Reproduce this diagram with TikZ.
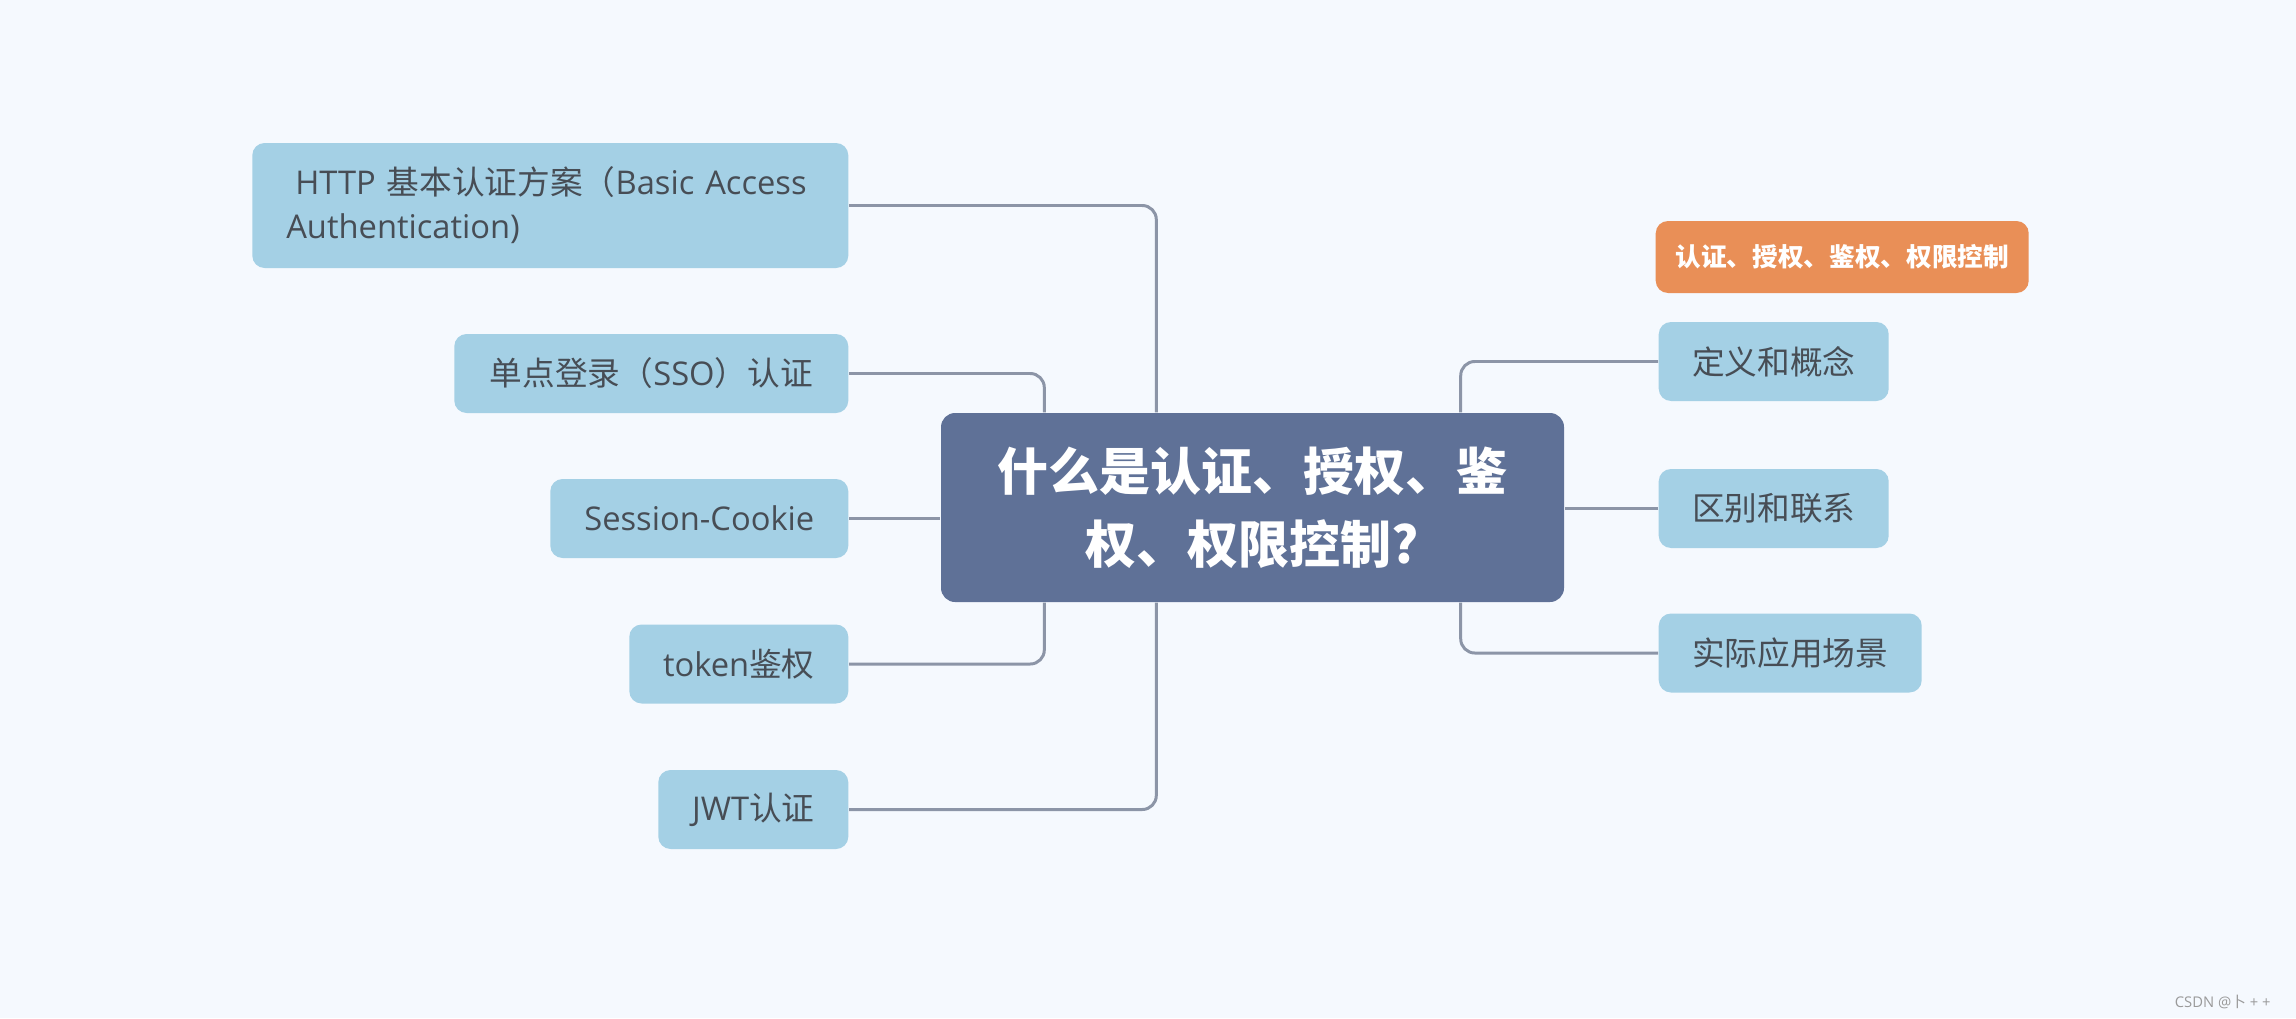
\documentclass[tikz,border=0pt]{standalone}
\usepackage{fontspec}
\setmainfont{Open Sans}
\newfontfamily\cjk{Noto Sans CJK SC}
\usepackage{xcolor}
\usepackage{tikz}
\usetikzlibrary{calc, positioning}
\definecolor{bgpale}{HTML}{F5F9FE}
\definecolor{hubblue}{HTML}{5F7197}
\definecolor{leafblue}{HTML}{A4D0E5}
\definecolor{leaftext}{HTML}{474D55}
\definecolor{tagorange}{HTML}{E98F57}
\definecolor{linkgray}{HTML}{8C95A7}
\definecolor{markgray}{HTML}{9A9A9A}
\newcommand{\zh}[1]{{\cjk #1}}

\begin{document}
\begin{tikzpicture}[
        hub/.style = {rectangle, rounded corners=4pt, fill=hubblue, text=white, minimum width=6.23cm, minimum height=1.89cm, align=center, font=\cjk\bfseries\fontsize{14.5}{20.7}\selectfont},
        leaf/.style = {rectangle, rounded corners=3.5pt, fill=leafblue, text=leaftext, minimum height=0.79cm, inner sep=0pt, font=\fontsize{9.3}{12.5}\selectfont},
        tag/.style = {rectangle, rounded corners=3.5pt, fill=tagorange, text=white, minimum width=3.73cm, minimum height=0.72cm, inner sep=0pt, font=\cjk\bfseries\fontsize{7.3}{9}\selectfont},
        link/.style = {draw=linkgray, line width=0.85pt, rounded corners=4pt}
    ]

        \fill[bgpale] (0,0) rectangle (22.96,10.18);
        \useasboundingbox (0,0) rectangle (22.96,10.18);

        \node (hub) [hub] at (12.525,5.105) {什么是认证、授权、鉴\\权、权限控制?};

        % left side
        \node (http) [leaf, anchor=east, minimum width=5.96cm, minimum height=1.25cm, text width=5.28cm, align=left] at (8.49,8.125) {\hspace{0.09cm}HTTP \zh{基本认证方案（}Basic Access\\Authentication)};
        \node (sso) [leaf, anchor=east, minimum width=3.94cm] at (8.49,6.445) {\zh{单点登录（}SSO\zh{）认证}};
        \node (session) [leaf, anchor=east, minimum width=2.98cm] at (8.49,4.995) {Session-Cookie};
        \node (token) [leaf, anchor=east, minimum width=2.19cm] at (8.49,3.54) {token\zh{鉴权}};
        \node (jwt) [leaf, anchor=east, minimum width=1.90cm] at (8.49,2.085) {JWT\zh{认证}};

        % right side
        \node (tag) [tag, anchor=west] at (16.55,7.61) {认证、授权、鉴权、权限控制};
        \node (define) [leaf, anchor=west, minimum width=2.30cm, font=\cjk\fontsize{9.3}{12.5}\selectfont] at (16.58,6.565) {定义和概念};
        \node (diff) [leaf, anchor=west, minimum width=2.30cm, font=\cjk\fontsize{9.3}{12.5}\selectfont] at (16.58,5.095) {区别和联系};
        \node (scene) [leaf, anchor=west, minimum width=2.63cm, font=\cjk\fontsize{9.3}{12.5}\selectfont] at (16.58,3.65) {实际应用场景};

        \draw [link] (http.east) -| ($(hub.north west)+(2.16,0)$);
        \draw [link] (sso.east) -| ($(hub.north west)+(1.04,0)$);
        \draw [link] (session.east) -- (session.east -| hub.west);
        \draw [link] (token.east) -| ($(hub.south west)+(1.04,0)$);
        \draw [link] (jwt.east) -| ($(hub.south west)+(2.16,0)$);

        \draw [link] ($(hub.north east)+(-1.04,0)$) |- (define.west);
        \draw [link] (diff.west) -- (diff.west -| hub.east);
        \draw [link] ($(hub.south east)+(-1.04,0)$) |- (scene.west);

        \node (mark) [anchor=east, text=markgray, font=\fontsize{4.2}{5}\selectfont] at (22.83,0.16) {CSDN @\zh{卜} + +};

    \end{tikzpicture}
\end{document}
